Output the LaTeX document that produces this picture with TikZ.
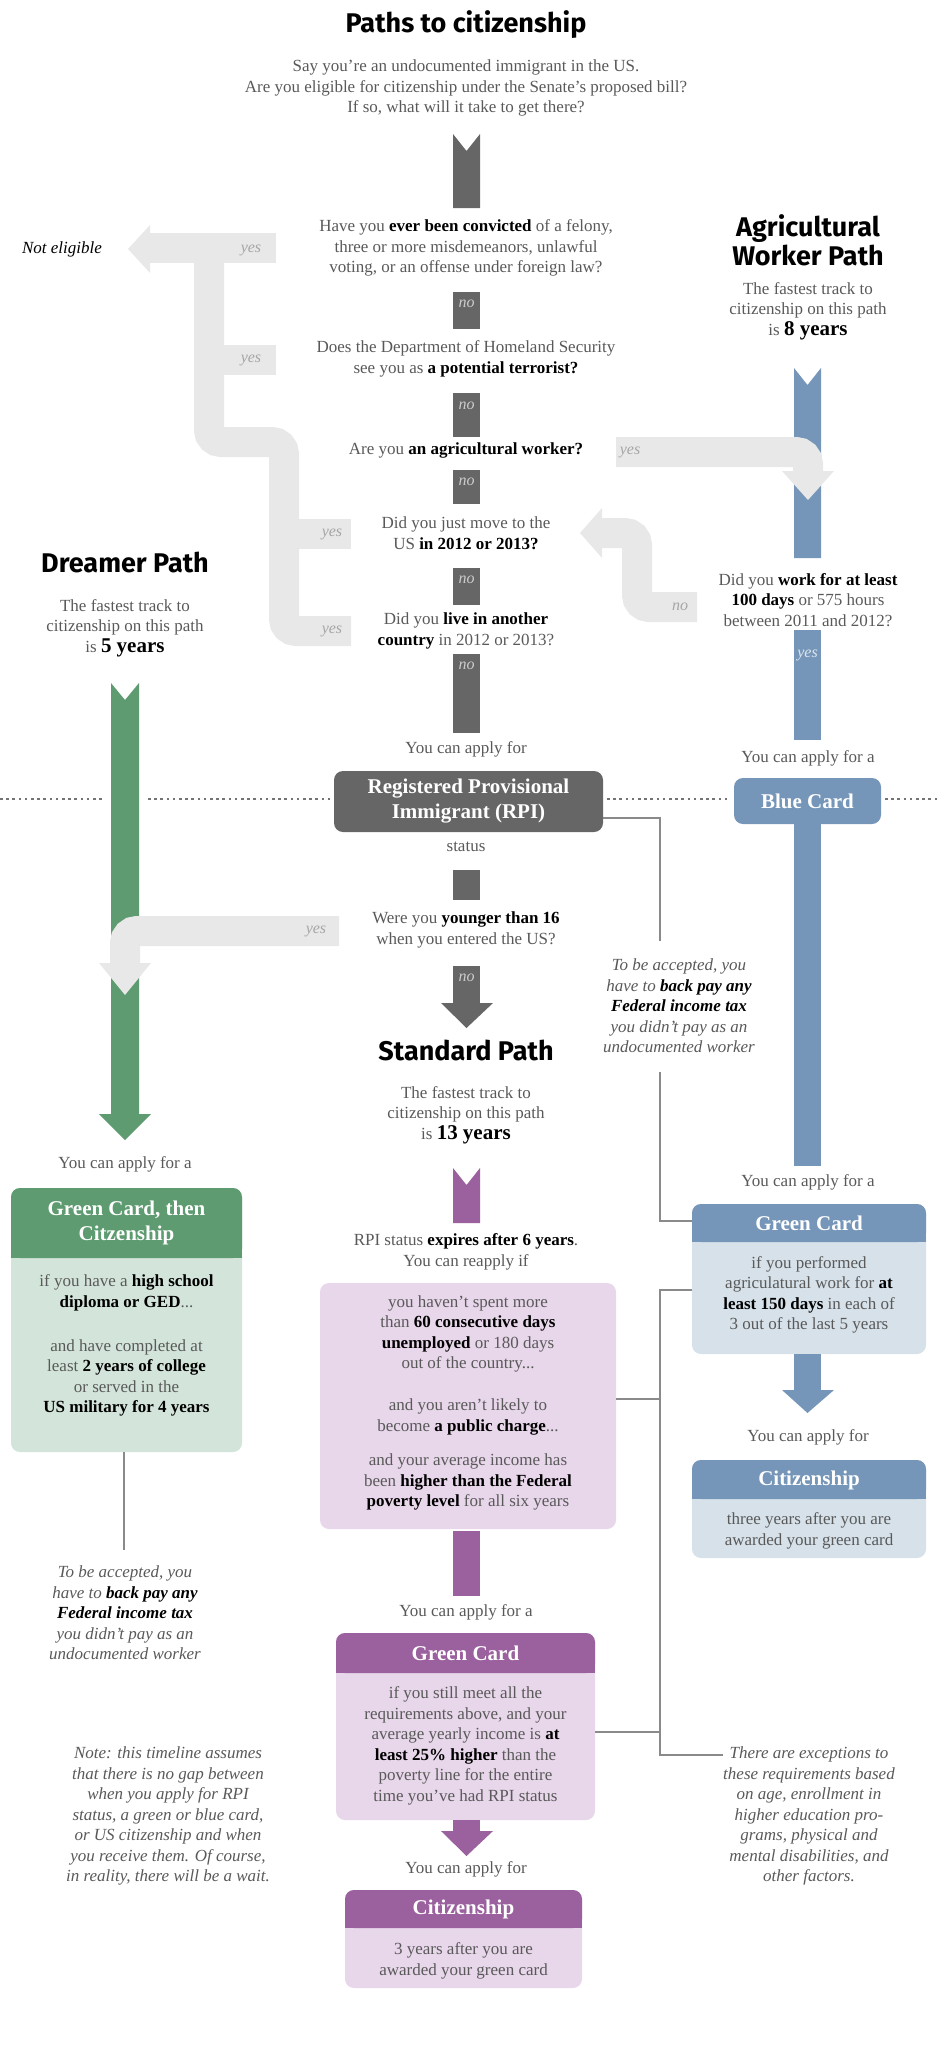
\documentclass[tikz,border=0pt]{standalone}
\usepackage{fontspec}
\setmainfont{Liberation Serif}
\setsansfont{Fira Sans}
\begin{document}
\definecolor{tg}{HTML}{595959}
\definecolor{dg}{HTML}{666666}
\definecolor{lg}{HTML}{E8E8E8}
\definecolor{bl}{HTML}{7596B8}
\definecolor{lbl}{HTML}{D6E1E9}
\definecolor{gr}{HTML}{5E9B70}
\definecolor{lgr}{HTML}{D3E5DA}
\definecolor{pu}{HTML}{9B619E}
\definecolor{lpu}{HTML}{E8D6EA}
\definecolor{ln}{HTML}{8A8A8A}
\tikzset{
 txt/.style={font=\fontsize{17}{20.5}\selectfont, text=tg, align=center, inner sep=0},
 nt/.style={txt, font=\itshape\fontsize{17}{20.5}\selectfont},
 ttl/.style={font=\sffamily\bfseries\fontsize{27}{29}\selectfont, align=center, inner sep=0},
 hd/.style={text=white, font=\bfseries\fontsize{21}{25}\selectfont, align=center, inner sep=0},
 lab/.style={font=\itshape\fontsize{16}{16}\selectfont, inner sep=0},
 nol/.style={lab, text=black!20},
 yesl/.style={lab, text=black!35},
 band/.style={draw=lg, line width=30pt, rounded corners=12pt},
 box/.style={rounded corners=9pt, inner sep=0},
 conn/.style={draw=ln, line width=1.2pt},
 dots/.style={draw=black!55, line width=2.6pt, dash pattern=on 2.6pt off 3.6pt}
}
\newcommand{\B}[1]{\textbf{\textcolor{black}{#1}}}
\begin{tikzpicture}[x=1pt,y=-1pt]
\useasboundingbox (0,0) rectangle (940,2053);
% title
\node[ttl] (title) at (466,25) {Paths to citizenship};
\node[txt] (intro) at (466,88) {Say you’re an undocumented immigrant in the US.\\Are you eligible for citizenship under the Senate’s proposed bill?\\If so, what will it take to get there?};
% dotted line
\draw[dots] (0,799) -- (104,799);
\draw[dots] (148,799) -- (330,799);
\draw[dots] (607,799) -- (730,799);
\draw[dots] (885,799) -- (940,799);
% light gray bands
\draw[band, rounded corners=0] (276,248) -- (148,248);
\fill[lg] (150,225) -- (150,273) -- (128,249) -- cycle;
\draw[band] (209,248) -- (209,442) -- (284,442) -- (284,631) -- (351,631);
\draw[band, rounded corners=0] (209,360) -- (276,360);
\draw[band, rounded corners=0] (284,534) -- (351,534);
% blue bar top
\fill[bl] (794,368) -- (807.5,385) -- (821,368) -- (821,558) -- (794,558) -- cycle;
\fill[bl] (794,630) rectangle (821,740);
\draw[band] (616,452) -- (808,452) -- (808,474);
\fill[lg] (782,471) -- (834,471) -- (808,500) -- cycle;
\draw[band] (697,607) -- (637,607) -- (637,533) -- (600,533);
\fill[lg] (602,508) -- (602,558) -- (580,533) -- cycle;
% dark bars
\fill[dg] (453,134) -- (466.5,151) -- (480,134) -- (480,208) -- (453,208) -- cycle;
\fill[dg] (453,292) rectangle (480,329);
\fill[dg] (453,393) rectangle (480,437);
\fill[dg] (453,470) rectangle (480,504);
\fill[dg] (453,568) rectangle (480,605);
\fill[dg] (453,654) rectangle (480,733);
\fill[dg] (453,870) rectangle (480,900);
\fill[dg] (453,966) rectangle (480,1003);
\fill[dg] (441,1003) -- (493,1003) -- (466.5,1028) -- cycle;
\foreach \y in {304,406,482,580,666,978}{\node[nol] at (466.5,\y) {no};}
\node[yesl] at (251,250) {yes};
\node[yesl] at (251,360) {yes};
\node[yesl] at (332,534) {yes};
\node[yesl] at (332,631) {yes};
\node[yesl] at (630,452) {yes};
\node[yesl] at (680,607) {no};
\node[yesl, text=white!75!bl] at (807.5,655) {yes};
% questions
\node[nt, text=black] (ne) at (62,249) {Not eligible};
\node[txt] (q1) at (466,248) {Have you \B{ever been convicted} of a felony,\\three or more misdemeanors, unlawful\\voting, or an offense under foreign law?};
\node[txt] (q2) at (466,359) {Does the Department of Homeland Security\\see you as \B{a potential terrorist?}};
\node[txt] (q3) at (466,450) {Are you \B{an agricultural worker?}};
\node[txt] (q4) at (466,533) {Did you just move to the\\US \B{in 2012 or 2013?}};
\node[txt] (q5) at (466,631) {Did you \B{live in another}\\\B{country} in 2012 or 2013?};
% agricultural
\node[ttl] (agt) at (808,240) {Agricultural\\Worker Path};
\node[txt] (ags) at (808,311) {The fastest track to\\citizenship on this path\\is {\fontsize{21}{22}\selectfont\B{8 years}}};
\node[txt] (bq) at (808,600) {Did you \B{work for at least}\\\B{100 days} or 575 hours\\between 2011 and 2012?};
% dreamer
\node[ttl] (drt) at (125,562) {Dreamer Path};
\node[txt] (drs) at (125,628) {The fastest track to\\citizenship on this path\\is {\fontsize{21}{22}\selectfont\B{5 years}}};
\fill[gr] (111,683) -- (125,700) -- (139,683) -- (139,1115) -- (111,1115) -- cycle;
\fill[gr] (99,1114) -- (151,1114) -- (125,1140) -- cycle;
\draw[band] (339,931) -- (125,931) -- (125,966);
\fill[lg] (99,963) -- (151,963) -- (125,995) -- cycle;
\node[yesl] at (316,931) {yes};
% RPI
\node[txt] (apply1) at (466,749) {You can apply for};
\node[box, fill=dg, minimum width=269pt, minimum height=61pt, hd] (rpi) at (468.5,801.5) {Registered Provisional\\Immigrant (RPI)};
\node[txt] (status) at (466,847) {status};
\node[txt] (q6) at (466,930) {Were you \B{younger than 16}\\when you entered the US?};
% blue card
\node[txt] (apply2) at (808,758) {You can apply for a};
\node[box, fill=bl, minimum width=147pt, minimum height=46pt, hd] (bc) at (807.5,801) {Blue Card};
\fill[bl] (794,824) rectangle (821,1166);
\node[nt] (n1) at (679,1006) {To be accepted, you\\have to \textbf{\textcolor{black}{back pay any}}\\\textbf{\textcolor{black}{Federal income tax}}\\you didn’t pay as an\\undocumented worker};
% standard
\node[ttl] (stt) at (466,1050) {Standard Path};
\node[txt] (sts) at (466,1115) {The fastest track to\\citizenship on this path\\is {\fontsize{21}{22}\selectfont\B{13 years}}};
\fill[pu] (453,1168) -- (466.5,1185) -- (480,1168) -- (480,1223) -- (453,1223) -- cycle;
\node[txt] (exp) at (466,1252) {RPI status \B{expires after 6 years}.\\You can reapply if};
\node[box, fill=lpu, minimum width=296pt, minimum height=246pt] (pbox) at (468,1406) {};
\node[txt] (r1) at (468,1334) {you haven’t spent more\\than \B{60 consecutive days}\\\B{unemployed} or 180 days\\out of the country...};
\node[txt] (r2) at (468,1417) {and you aren’t likely to\\become \B{a public charge}...};
\node[txt] (r3) at (468,1482) {and your average income has\\been \B{higher than the Federal}\\\B{poverty level} for all six years};
\fill[pu] (453,1531) rectangle (480,1596);
\node[txt] (apply3) at (466,1612) {You can apply for a};
\node[box, fill=lpu, minimum width=259pt, minimum height=187pt] (pgc) at (465.5,1726.5) {};
\fill[pu, rounded corners=9pt] (336,1633) rectangle (595,1673);
\fill[pu] (336,1660) rectangle (595,1673);
\node[hd] (pgch) at (465.5,1653) {Green Card};
\node[txt] (pgct) at (465.5,1746) {if you still meet all the\\requirements above, and your\\average yearly income is \B{at}\\\B{least 25\% higher} than the\\poverty line for the entire\\time you’ve had RPI status};
\fill[pu] (453,1820) rectangle (480,1832);
\fill[pu] (441,1831) -- (493,1831) -- (466.5,1856) -- cycle;
\node[txt] (apply4) at (466,1869) {You can apply for};
\node[box, fill=lpu, minimum width=237pt, minimum height=98pt] (pcz) at (463.5,1939) {};
\fill[pu, rounded corners=9pt] (345,1890) rectangle (582,1928);
\fill[pu] (345,1915) rectangle (582,1928);
\node[hd] (pczh) at (463.5,1909) {Citizenship};
\node[txt] (pczt) at (463.5,1961) {3 years after you are\\awarded your green card};
% left green card
\node[txt] (apply5) at (125,1164) {You can apply for a};
\node[box, fill=lgr, minimum width=231pt, minimum height=264pt] (ggc) at (126.5,1320) {};
\fill[gr, rounded corners=9pt] (11,1188) rectangle (242,1258);
\fill[gr] (11,1245) rectangle (242,1258);
\node[hd] (ggch) at (126.5,1223) {Green Card, then\\Citzenship};
\node[txt] (ggt1) at (126.5,1293) {if you have a \B{high school}\\\B{diploma or GED}...};
\node[txt] (ggt2) at (126.5,1378) {and have completed at\\least \B{2 years of college}\\or served in the\\\B{US military for 4 years}};
\node[nt] (n2) at (125,1613) {To be accepted, you\\have to \textbf{\textcolor{black}{back pay any}}\\\textbf{\textcolor{black}{Federal income tax}}\\you didn’t pay as an\\undocumented worker};
\node[nt] (n3) at (168,1816) {Note: this timeline assumes\\that there is no gap between\\when you apply for RPI\\status, a green or blue card,\\or US citizenship and when\\you receive them. Of course,\\in reality, there will be a wait.};
% right green card
\node[txt] (apply6) at (808,1182) {You can apply for a};
\node[box, fill=lbl, minimum width=234pt, minimum height=150pt] (bgc) at (809,1279) {};
\fill[bl, rounded corners=9pt] (692,1204) rectangle (926,1242);
\fill[bl] (692,1230) rectangle (926,1242);
\node[hd] (bgch) at (809,1223) {Green Card};
\node[txt] (bgct) at (809,1295) {if you performed\\agriculatural work for \B{at}\\\B{least 150 days} in each of\\3 out of the last 5 years};
\fill[bl] (794,1354) rectangle (821,1391);
\fill[bl] (782,1390) -- (834,1390) -- (807.5,1413) -- cycle;
\node[txt] (apply7) at (808,1437) {You can apply for};
\node[box, fill=lbl, minimum width=234pt, minimum height=98pt] (bcz) at (809,1509) {};
\fill[bl, rounded corners=9pt] (692,1460) rectangle (926,1499);
\fill[bl] (692,1487) rectangle (926,1499);
\node[hd] (bczh) at (809,1480) {Citizenship};
\node[txt] (bczt) at (809,1531) {three years after you are\\awarded your green card};
\node[nt] (n4) at (809,1816) {There are exceptions to\\these requirements based\\on age, enrollment in\\higher education pro-\\grams, physical and\\mental disabilities, and\\other factors.};
% connectors
\coordinate (c1) at (660,941);
\coordinate (c2) at (660,1072);
\draw[conn] (rpi.east |- 0,818) -- (660,818) -- (c1);
\draw[conn] (c2) -- (660,1221) -- (bgc.west |- 0,1221);
\draw[conn] (bgc.west |- 0,1290) -- (660,1290) -- (660,1755) -- (n4.west |- 0,1755);
\draw[conn] (pbox.east |- 0,1399) -- (660,1399);
\draw[conn] (pgc.east |- 0,1732) -- (660,1732);
\draw[conn] (ggc.south -| 124,0) -- (124,1550);
\end{tikzpicture}
\end{document}
